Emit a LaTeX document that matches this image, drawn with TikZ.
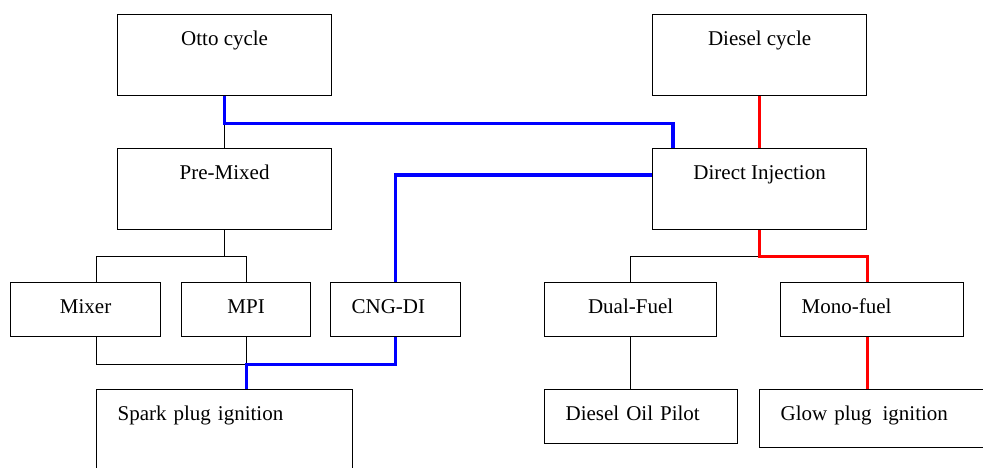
\documentclass[tikz,border=0pt]{standalone}
\usepackage{fontspec}
\setmainfont{Liberation Serif}
\usetikzlibrary{calc}
\tikzstyle{box} = [rectangle, draw=black, line width=0.6pt, inner sep=0pt, anchor=north west, text height=15.5pt, font=\fontsize{10.5}{12}\selectfont]
\tikzstyle{tallbox} = [box, minimum width=107pt, text depth=25pt]
\tikzstyle{flatbox} = [box, text depth=11.5pt]
\tikzstyle{leftbox} = [align=left, inner xsep=10.5pt]
\tikzstyle{link} = [line width=0.5pt]
\tikzstyle{gasline} = [line width=1.6pt, blue]
\tikzstyle{dieselline} = [line width=1.6pt, red]

\begin{document}
\begin{tikzpicture}[x=0.5pt, y=-0.5pt]
                \useasboundingbox (0,0) rectangle (983,467);
                \clip (0,0) rectangle (983,467);

                % Nodes
                \node (otto) [tallbox] at (117,14) {Otto cycle};
                \node (diesel) [tallbox] at (652,14) {Diesel cycle};
                \node (premix) [tallbox] at (117,148) {Pre-Mixed};
                \node (direct) [tallbox] at (652,148) {Direct Injection};
                \node (mixer) [flatbox, minimum width=75pt] at (10,282) {Mixer};
                \node (mpi) [flatbox, minimum width=64.5pt] at (181,282) {MPI};
                \node (cngdi) [flatbox, leftbox, text width=44pt] at (330,282) {CNG-DI};
                \node (dualfuel) [flatbox, minimum width=86pt] at (544,282) {Dual-Fuel};
                \node (monofuel) [flatbox, leftbox, text width=70.5pt] at (780,282) {Mono-fuel};
                \node (spark) [box, leftbox, text depth=45pt, text width=107pt] at (96,389) {Spark plug ignition};
                \node (pilot) [flatbox, leftbox, text width=75.5pt] at (544,389) {Diesel Oil Pilot};
                \node (glow) [box, leftbox, text depth=13.5pt, text width=100pt] at (759,389) {Glow plug\hspace{2pt} ignition};

                % Junctions
                \coordinate (pmjoin) at ($(premix.south)+(0,26)$);
                \coordinate (sparkjoin) at ($(mpi.south)+(0,27)$);
                \coordinate (dijoin) at ($(direct.south)+(0,26)$);

                % Black links
                \draw [link] (otto.south) -- (premix.north);
                \draw [link] (premix.south) -- (pmjoin);
                \draw [link] (spark.west |- mixer.north) |- (mpi.north |- pmjoin) -- (mpi.north);
                \draw [link] (spark.west |- mixer.south) |- (sparkjoin) -- (mpi.south);
                \draw [link] (dijoin) -| (dualfuel.north);
                \draw [link] (dualfuel.south) -- (dualfuel.south |- pilot.north);

                % Gas paths
                \draw [gasline] (otto.south) -- ($(otto.south)+(0,27)$) -| ($(direct.north west)+(21,0)$);
                \draw [gasline] ($(direct.north west)+(0,27)$) -| (cngdi.north);
                \draw [gasline] (cngdi.south) |- (sparkjoin) -- (sparkjoin |- spark.north);

                % Diesel paths
                \draw [dieselline] (diesel.south) -- (direct.north);
                \draw [dieselline] (direct.south) -- (dijoin) -| (direct.east |- monofuel.north);
                \draw [dieselline] (direct.east |- monofuel.south) -- (direct.east |- glow.north);
            \end{tikzpicture}
\end{document}
